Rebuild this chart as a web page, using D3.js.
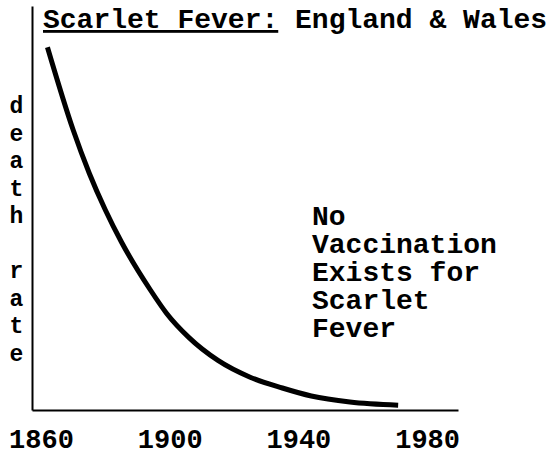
<!DOCTYPE html>
<html>
<head>
<meta charset="utf-8">
<script src="https://cdnjs.cloudflare.com/ajax/libs/d3/7.8.5/d3.min.js"></script>
<style>
  body { margin: 0; background: #fff; }
  text { font-family: "Liberation Mono", "Courier New", monospace; font-weight: bold; fill: #000; }
</style>
</head>
<body>
<div id="chart-area"></div>
<script>
// death rate (arbitrary units)
var years = [1862, 1870, 1875, 1880, 1885, 1894, 1899, 1906, 1915, 1925, 1935, 1944, 1956, 1971]
var deathRate = [907, 700, 592, 500, 420, 300, 242, 181, 124, 82, 55, 35, 20, 12]
var tickYears = [1860, 1900, 1940, 1980]
var yLabel = ["d", "e", "a", "t", "h", " ", "r", "a", "t", "e"]
var noteLines = ["No", "Vaccination", "Exists for", "Scarlet", "Fever"]

var width = 548
var height = 455

var svg = d3.select("#chart-area").append("svg")
    .attr("width", width)
    .attr("height", height)

var x = d3.scaleLinear()
  .domain([1857.2, 1989.6])
  .range([32, 458])

var y = d3.scaleLinear()
  .domain([0, 1010])
  .range([410, 6])

var data = years.map(function(d, i) { return {year: d, rate: deathRate[i]} })

// axes
var xAxisCall = d3.axisBottom(x).tickValues(tickYears).tickSize(0).tickFormat(d3.format("d"))
var xg = svg.append("g")
  .attr("class", "x axis")
  .attr("transform", "translate(0,410)")
  .call(xAxisCall)
xg.select(".domain").attr("stroke", "#000").attr("stroke-width", 2)
xg.selectAll(".tick text")
  .attr("y", 38)
  .attr("dy", 0)
  .style("font-size", "27px")
  .style("font-family", "'Liberation Mono', monospace")
  .style("font-weight", "bold")

var yAxisCall = d3.axisLeft(y).tickValues([]).tickSize(0)
var yg = svg.append("g")
  .attr("class", "y axis")
  .attr("transform", "translate(32,0)")
  .call(yAxisCall)
yg.select(".domain").attr("stroke", "#000").attr("stroke-width", 2)

// the curve
var valueline = d3.line()
  .x(function(d) { return x(d.year) })
  .y(function(d) { return y(d.rate) })
  .curve(d3.curveMonotoneX)

svg.append("path")
  .data([data])
  .attr("fill", "none")
  .attr("stroke", "#000")
  .attr("stroke-width", 5)
  .attr("d", valueline)

// title
var title = svg.append("text")
  .attr("x", 43)
  .attr("y", 28)
  .style("font-size", "28px")
title.append("tspan")
  .style("text-decoration", "underline")
  .text("Scarlet Fever:")
title.append("tspan")
  .text(" England & Wales")

// vertical y label
svg.selectAll(".ylab")
  .data(yLabel)
  .enter().append("text")
  .attr("class", "ylab")
  .attr("x", 16.5)
  .attr("y", function(d, i) { return 113 + i * 27.5 })
  .attr("text-anchor", "middle")
  .style("font-size", "23px")
  .text(function(d) { return d })

// annotation
svg.selectAll(".note")
  .data(noteLines)
  .enter().append("text")
  .attr("class", "note")
  .attr("x", 312)
  .attr("y", function(d, i) { return 225 + i * 28 })
  .style("font-size", "28px")
  .text(function(d) { return d })
</script>
</body>
</html>
